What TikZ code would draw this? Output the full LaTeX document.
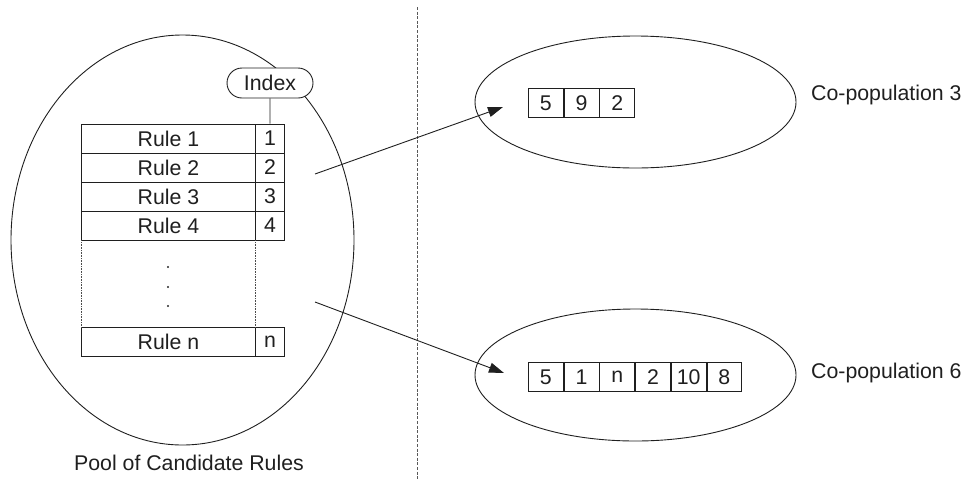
\documentclass[tikz,border=0pt]{standalone}
\usepackage{fontspec}
\setmainfont{Liberation Sans}
\usetikzlibrary{shapes.geometric,shapes.misc,arrows.meta}

\tikzset{
  every node/.style={font=\fontsize{21.3}{25}\selectfont, text=black!88},
  thinline/.style={line width=0.9pt, draw=black!88},
  rulecell/.style={thinline, draw, rectangle, minimum width=174pt, minimum height=29pt, inner sep=0pt, anchor=north west},
  idxcell/.style={thinline, draw, rectangle, minimum width=29pt, minimum height=29pt, inner sep=0pt, anchor=north west},
  gene/.style={thinline, draw, rectangle, minimum width=34.8pt, minimum height=29pt, inner sep=0pt, anchor=north west},
  blob/.style={thinline, draw, ellipse, inner sep=0pt},
  pill/.style={thinline, draw, fill=white, rounded rectangle, minimum width=86pt, minimum height=30pt, inner sep=0pt},
  label/.style={anchor=base west, inner sep=0pt},
  dotted side/.style={line width=0.8pt, draw=black!70, dash pattern=on 1pt off 0.6pt},
  divider/.style={line width=1pt, draw=black!65, dash pattern=on 3pt off 1.6pt},
  pointer/.style={thinline, -{Triangle[length=15pt,width=10pt]}},
}

\begin{document}
\begin{tikzpicture}[x=1pt,y=-1pt]
\useasboundingbox (0,0) rectangle (963,480);

% pool of rules
\node[blob, minimum width=343pt, minimum height=410pt] (pool) at (182.5,240) {};
\node[anchor=base, inner sep=0pt] (poollabel) at (189,470) {Pool of Candidate Rules};

% rule table
\node[rulecell] (r1) at (81,123.5) {Rule 1};
\node[idxcell]  (i1) at (255,123.5) {1};
\node[rulecell] (r2) at (81,152.5) {Rule 2};
\node[idxcell]  (i2) at (255,152.5) {2};
\node[rulecell] (r3) at (81,181.5) {Rule 3};
\node[idxcell]  (i3) at (255,181.5) {3};
\node[rulecell] (r4) at (81,210.5) {Rule 4};
\node[idxcell]  (i4) at (255,210.5) {4};
\node[rulecell] (rn) at (81,327) {Rule n};
\node[idxcell]  (in) at (255,327) {n};

% elided rows
\draw[dotted side] (r4.south west) -- (rn.north west);
\draw[dotted side] (i4.south west) -- (in.north west);
\foreach \yy/\nm in {267/d1,287/d2,306/d3}
  \fill[black!85] (168,\yy) circle (1.1pt) coordinate (\nm);

% index tag
\node[pill] (index) at (270,83) {Index};
\draw[thinline] (index.south) -- (i1.north);

% separator
\coordinate (sepTop) at (417,7);
\coordinate (sepBot) at (417,480);
\draw[divider] (sepTop) -- (sepBot);

% co-population 3
\node[blob, minimum width=321pt, minimum height=132pt] (pop3) at (635.5,102) {};
\node[gene] (a1) at (528,88) {5};
\node[gene] (a2) at (a1.north east) {9};
\node[gene] (a3) at (a2.north east) {2};
\node[label] (pop3label) at (811,100) {Co-population 3};

% co-population 6
\node[blob, minimum width=321pt, minimum height=132pt] (pop6) at (635.5,375) {};
\node[gene] (b1) at (528,362) {5};
\node[gene] (b2) at (b1.north east) {1};
\node[gene] (b3) at (b2.north east) {n};
\node[gene] (b4) at (b3.north east) {2};
\node[gene] (b5) at (b4.north east) {10};
\node[gene] (b6) at (b5.north east) {8};
\node[label] (pop6label) at (811,378) {Co-population 6};

% selections
\coordinate (srcA) at (315,174);
\coordinate (dstA) at (503,107);
\coordinate (srcB) at (315,302);
\coordinate (dstB) at (504,373);
\draw[pointer] (srcA) -- (dstA);
\draw[pointer] (srcB) -- (dstB);
\end{tikzpicture}
\end{document}
